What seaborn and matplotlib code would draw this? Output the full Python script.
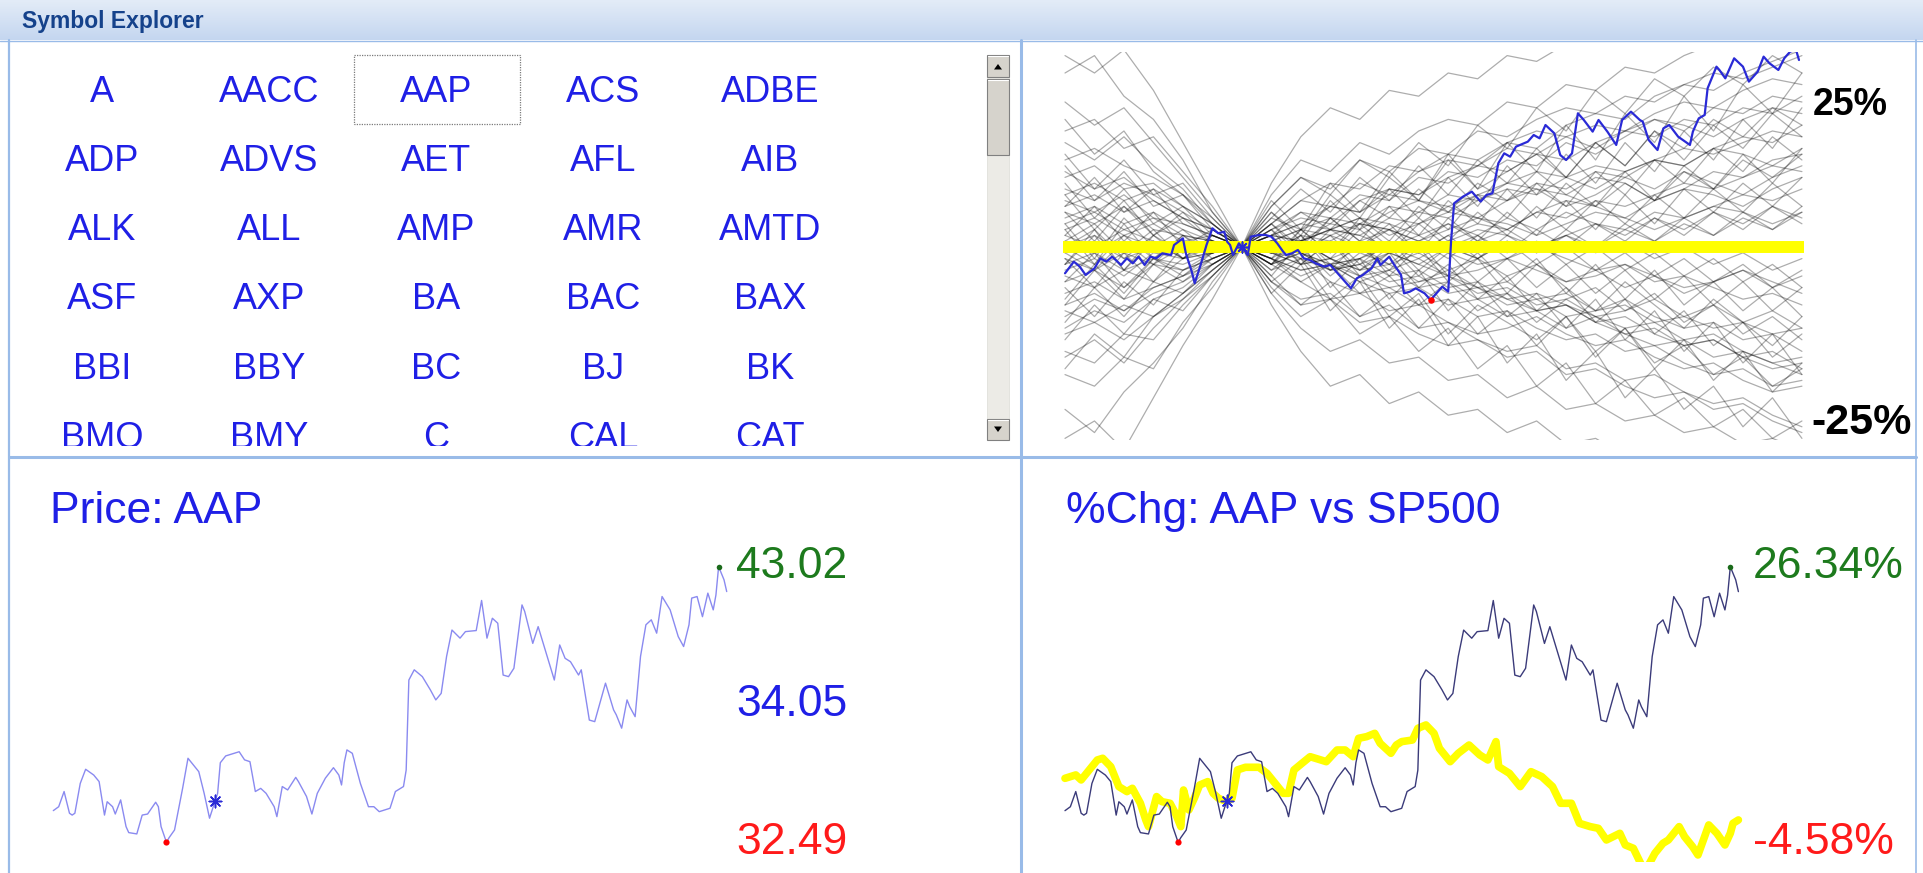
import matplotlib
matplotlib.use("Agg")
import matplotlib.pyplot as plt
import numpy as np
import pandas as pd
import seaborn as sns
from matplotlib.patches import Rectangle, Polygon

# ---------------- data ----------------
panel_title = "Symbol Explorer"
symbols = ["A", "AACC", "AAP", "ACS", "ADBE",
           "ADP", "ADVS", "AET", "AFL", "AIB",
           "ALK", "ALL", "AMP", "AMR", "AMTD",
           "ASF", "AXP", "BA", "BAC", "BAX",
           "BBI", "BBY", "BC", "BJ", "BK",
           "BMO", "BMY", "C", "CAL", "CAT"]
selected = "AAP"
benchmark = "SP500"
base_day = 60

price_days = [0, 2, 4, 6, 7, 8, 10, 12, 15, 17,
              19, 20, 22, 23, 25, 27, 28, 31, 33, 35,
              38, 39, 40, 42, 43, 45, 48, 50, 54, 56,
              58, 60, 61, 62, 64, 69, 71, 73, 75, 77,
              79, 82, 83, 85, 87, 90, 91, 94, 96, 98,
              101, 104, 106, 107, 108, 109, 111, 114, 117, 119,
              121, 125, 127, 130, 131, 132, 134, 137, 140, 142,
              144, 146, 148, 151, 153, 157, 159, 161, 163, 165,
              167, 169, 171, 174, 175, 178, 180, 183, 186, 188,
              190, 192, 195, 196, 199, 201, 205, 208, 209, 211,
              213, 214, 216, 217, 218, 220, 222, 224, 226, 229,
              232, 234, 236, 237, 239, 241, 243, 245, 246, 247,
              249, 250]
price_values = [33.70, 33.85, 34.43, 33.60, 33.53, 33.60, 34.74, 35.28, 35.06, 34.81,
                33.53, 34.04, 33.85, 33.57, 34.11, 33.09, 32.86, 32.81, 33.53, 33.57,
                34.02, 33.85, 33.09, 32.49, 32.67, 32.96, 34.55, 35.70, 35.19, 34.36,
                33.41, 34.05, 34.36, 35.53, 35.79, 35.95, 35.64, 35.57, 34.43, 34.55,
                34.36, 33.85, 33.47, 34.62, 34.49, 34.97, 34.81, 34.24, 33.57, 34.36,
                34.94, 35.34, 35.06, 34.68, 35.53, 36.02, 35.89, 34.74, 33.85, 33.85,
                33.66, 33.79, 34.43, 34.62, 35.25, 38.69, 39.08, 38.82, 38.31, 37.93,
                38.18, 39.59, 40.60, 40.29, 40.54, 40.58, 41.73, 40.29, 41.05, 40.86,
                38.88, 38.82, 39.14, 41.56, 41.31, 40.09, 40.73, 39.71, 38.69, 40.03,
                39.52, 39.39, 38.88, 39.08, 37.16, 37.10, 38.57, 37.55, 37.36, 36.85,
                37.93, 37.67, 37.29, 38.44, 39.59, 40.80, 40.99, 40.48, 41.88, 41.37,
                40.35, 39.97, 40.80, 41.82, 41.88, 41.11, 42.01, 41.37, 41.94, 43.02,
                42.52, 42.07]

sp500_days = [0, 4, 6, 9, 12, 14, 17, 20, 23, 25,
              28, 30, 31, 34, 36, 39, 41, 43, 44, 46,
              48, 50, 53, 55, 57, 60, 62, 64, 67, 72,
              75, 78, 81, 83, 85, 88, 91, 95, 97, 101,
              104, 107, 109, 112, 115, 117, 121, 123, 125, 129,
              131, 134, 137, 139, 143, 146, 150, 154, 157, 160,
              161, 165, 169, 173, 177, 181, 184, 188, 191, 195,
              198, 201, 206, 208, 211, 214, 216, 219, 222, 224,
              228, 230, 233, 235, 237, 239, 242, 245, 247, 248,
              250]
sp500_pct = [2.60, 2.98, 2.42, 3.54, 4.66, 4.85, 3.91, 1.67, 1.11, 1.48,
             -0.20, -2.07, -2.82, 0.55, -0.02, -0.20, -1.33, -2.82, 1.29, -0.95,
             0.36, 1.85, 2.23, 0.92, 0.36, -0.02, 0.36, 3.54, 3.84, 3.84,
             3.16, 2.04, 0.92, 0.92, 3.54, 4.29, 5.03, 4.66, 4.47, 5.78,
             5.78, 5.03, 7.09, 7.28, 7.65, 6.53, 5.41, 6.34, 6.72, 6.90,
             8.21, 8.59, 7.65, 5.97, 4.47, 5.41, 6.34, 5.22, 4.66, 6.72,
             3.91, 3.16, 1.67, 3.35, 2.79, 1.67, -0.20, -0.20, -2.45, -2.82,
             -3.01, -4.32, -3.57, -4.88, -5.25, -7.12, -7.50, -5.81, -4.69, -4.32,
             -2.82, -3.94, -5.07, -6.00, -4.32, -2.63, -3.57, -4.88, -3.57, -2.45,
             -2.07]

explorer_days = [0, 3, 5, 7, 10, 12, 14, 16, 19, 21,
                 23, 25, 27, 29, 31, 33, 36, 37, 40, 41,
                 43, 44, 46, 48, 50, 52, 54, 55, 56, 57,
                 59, 60, 62, 63, 66, 68, 70, 72, 74, 75,
                 77, 79, 81, 83, 85, 88, 90, 92, 94, 97,
                 99, 101, 104, 106, 107, 110, 111, 114, 115, 117,
                 119, 122, 124, 126, 128, 130, 131, 132, 135, 138,
                 141, 143, 145, 147, 149, 151, 153, 157, 159, 161,
                 163, 166, 168, 170, 172, 174, 176, 179, 181, 184,
                 187, 189, 192, 195, 196, 198, 201, 203, 205, 208,
                 212, 213, 215, 217, 218, 221, 222, 224, 227, 230,
                 232, 235, 237, 239, 242, 244, 246, 248, 249]
explorer_pct = [-4.54, -2.53, -3.39, -4.83, -3.68, -1.95, -2.53, -1.67, -3.10, -1.95,
                -2.82, -1.67, -3.10, -1.67, -1.95, -1.09, -1.38, 0.34, 1.49, -1.09,
                -4.25, -6.26, -3.10, 0.34, 3.22, 2.36, 2.64, 0.92, 0.34, -1.38,
                0.63, 0.00, -1.38, 1.78, 2.07, 2.07, 1.78, 0.63, -0.80, -1.38,
                -1.09, -0.52, -1.95, -2.24, -2.82, -3.39, -3.10, -4.25, -5.40, -7.13,
                -5.40, -4.83, -3.68, -1.95, -3.10, -1.67, -2.53, -4.83, -7.99, -7.70,
                -7.13, -7.99, -9.14, -7.99, -6.84, -7.70, 1.21, 7.53, 8.68, 9.54,
                7.82, 8.97, 9.25, 14.43, 16.15, 15.57, 17.30, 18.16, 19.31, 18.74,
                21.03, 19.60, 15.86, 15.00, 16.15, 23.05, 21.90, 19.89, 21.90, 19.89,
                17.59, 21.90, 23.33, 21.90, 21.61, 18.45, 16.72, 20.46, 21.03, 19.02,
                17.59, 19.89, 22.18, 22.76, 27.36, 31.09, 30.52, 29.08, 32.53, 31.09,
                28.51, 30.23, 32.82, 31.67, 30.52, 32.53, 33.68, 33.97, 32.24]

peer_days = [0, 10, 20, 30, 40, 50, 60, 70, 80, 90, 100, 110, 120, 130,
             140, 150, 160, 170, 180, 190, 200, 210, 220, 230, 240, 250]
peer_pct = [
    [8, 6, 9, 5, 4, 2, 0, 3, 5, 4, 8, 10, 9, 13, 12, 15, 14, 18, 16, 19, 22, 20, 24, 23, 26, 25],
    [-6, -4, -7, -3, -4, -2, 0, -2, -5, -3, -6, -8, -7, -10, -9, -12, -11, -14, -12, -15, -17, -16, -19, -18, -20, -22],
    [12, 14, 10, 11, 7, 4, 0, -3, -1, -4, -2, 1, -1, 2, 4, 3, 6, 5, 8, 7, 9, 11, 10, 12, 14, 13],
    [-12, -9, -11, -8, -6, -3, 0, 2, 1, 4, 3, 6, 8, 7, 5, 8, 10, 9, 12, 11, 8, 10, 13, 12, 15, 16],
    [3, 5, 2, 4, 1, 2, 0, -1, 1, -2, -4, -3, -6, -5, -8, -7, -10, -9, -12, -14, -13, -16, -15, -18, -20, -19],
    [-3, -1, -4, -2, -3, -1, 0, 3, 6, 5, 9, 8, 12, 11, 14, 17, 16, 19, 21, 20, 23, 25, 24, 27, 29, 28],
    [20, 22, 17, 19, 13, 7, 0, -6, -9, -8, -12, -10, -14, -13, -16, -18, -17, -21, -20, -23, -22, -25, -27, -26, -29, -31],
    [-18, -20, -15, -16, -10, -5, 0, 4, 8, 7, 11, 9, 13, 15, 14, 18, 17, 21, 23, 22, 26, 28, 27, 30, 32, 34],
    [5, 7, 4, 6, 3, 1, 0, 1, -1, 2, 0, 3, 1, 4, 2, 5, 3, 6, 4, 2, 5, 3, 6, 4, 7, 5],
    [-5, -7, -4, -6, -2, -1, 0, -1, 1, -2, 0, -3, -1, -4, -2, -5, -3, -6, -4, -7, -5, -8, -6, -4, -7, -5],
    [30, 33, 26, 22, 15, 6, 0, -8, -14, -18, -16, -20, -19, -23, -22, -26, -24, -28, -27, -30, -29, -32, -31, -34, -33, -35],
    [-28, -32, -25, -20, -14, -6, 0, 9, 15, 13, 18, 16, 20, 22, 21, 25, 24, 28, 27, 31, 30, 33, 35, 34, 36, 35],
    [10, 8, 11, 9, 6, 3, 0, 2, 4, 7, 6, 9, 8, 6, 9, 11, 10, 7, 9, 12, 10, 13, 11, 9, 12, 14],
    [-10, -8, -11, -7, -5, -3, 0, -2, -4, -3, -6, -4, -2, -5, -7, -6, -9, -8, -11, -10, -13, -12, -10, -13, -15, -14],
    [0, 2, -1, 1, -2, -1, 0, 2, 4, 3, 5, 2, 4, 6, 5, 3, 6, 8, 7, 5, 8, 10, 9, 7, 10, 12],
    [2, 0, 3, 1, -1, 1, 0, -2, -4, -3, -5, -7, -6, -4, -7, -9, -8, -10, -12, -11, -9, -12, -14, -13, -11, -14],
    [15, 17, 14, 12, 9, 5, 0, -4, -2, -6, -8, -7, -10, -9, -12, -11, -14, -16, -15, -18, -17, -20, -22, -21, -24, -23],
    [-15, -13, -16, -12, -9, -4, 0, 5, 3, 7, 6, 10, 9, 12, 14, 13, 16, 15, 18, 20, 19, 22, 21, 24, 23, 26],
    [7, 9, 6, 8, 5, 3, 0, -1, 2, 1, 4, 3, 6, 5, 8, 10, 9, 12, 14, 13, 15, 17, 16, 18, 20, 19],
    [-8, -6, -9, -7, -5, -2, 0, 1, -1, -3, -2, -5, -4, -7, -6, -9, -11, -10, -13, -12, -15, -17, -16, -19, -21, -20],
    [4, 6, 3, 5, 2, 1, 0, 2, 1, 3, 5, 4, 2, 4, 1, 3, 0, 2, -1, 1, -2, 0, -3, -1, -4, -2],
    [-2, -4, -1, -3, 0, -1, 0, -1, -3, -2, -4, -1, -3, 0, -2, 1, -1, 2, 0, 3, 1, 4, 2, 5, 3, 6],
    [25, 21, 24, 18, 12, 6, 0, 7, 12, 10, 15, 13, 17, 16, 20, 19, 22, 24, 23, 26, 25, 28, 30, 29, 31, 33],
    [-22, -24, -19, -21, -13, -7, 0, -6, -10, -9, -13, -12, -15, -17, -16, -19, -18, -22, -21, -24, -26, -25, -28, -27, -30, -32],
    [9, 11, 8, 10, 7, 4, 0, 1, 3, 5, 4, 7, 6, 9, 8, 11, 13, 12, 10, 13, 15, 14, 17, 16, 14, 17],
    [-11, -13, -10, -12, -8, -4, 0, -3, -1, -4, -3, -6, -5, -8, -7, -10, -9, -12, -11, -9, -12, -14, -13, -16, -15, -18],
    [1, -1, 2, 0, 1, -1, 0, 1, 3, 2, 4, 3, 1, 3, 5, 4, 2, 4, 6, 5, 3, 5, 7, 6, 4, 6],
    [-1, 1, -2, 0, -1, 1, 0, -1, -2, -4, -3, -1, -3, -5, -4, -2, -4, -6, -5, -3, -5, -7, -6, -4, -6, -8],
    [18, 15, 19, 14, 10, 4, 0, -2, 1, 3, 2, 5, 4, 7, 9, 8, 11, 10, 13, 12, 15, 14, 17, 19, 18, 21],
    [-19, -16, -20, -14, -9, -5, 0, -1, -3, -2, -5, -4, -7, -6, -9, -8, -11, -10, -13, -15, -14, -17, -16, -19, -18, -21],
    [33, 30, 34, 27, 18, 9, 0, -10, -18, -24, -22, -27, -25, -29, -28, -32, -30, -34, -33, -36, -35, -37, -36, -38, -37, -36],
    [-33, -30, -35, -26, -17, -9, 0, 11, 19, 24, 22, 27, 26, 30, 29, 33, 32, 35, 34, 37, 36, 38, 37, 39, 38, 37],
    [6, 4, 7, 3, 2, 1, 0, 4, 8, 11, 10, 14, 13, 16, 15, 18, 20, 19, 17, 20, 22, 21, 19, 22, 24, 23],
    [-4, -2, -5, -1, -2, 0, 0, -3, -6, -9, -8, -11, -10, -13, -15, -14, -12, -15, -17, -16, -19, -21, -20, -23, -25, -24],
    [13, 10, 12, 8, 5, 3, 0, 1, -1, -3, -2, 0, -2, 1, 3, 2, 0, 2, 4, 3, 6, 5, 7, 9, 8, 10],
    [-14, -11, -13, -9, -7, -3, 0, -1, 1, 3, 2, 0, 2, -1, -3, -2, 0, -2, -4, -3, -6, -5, -7, -9, -8, -10],
    [4, -2, 5, 0, 3, -1, 0, -3, 2, -4, 1, -5, 0, -6, -2, -8, -3, -7, -11, -6, -10, -14, -9, -13, -17, -12],
    [-3, 2, -4, 1, -2, 2, 0, 4, -1, 5, 1, 7, 2, 8, 4, 10, 5, 11, 7, 13, 8, 14, 10, 16, 11, 17],
    [9, 3, 8, 2, 6, 1, 0, -5, 1, -7, -2, -9, -4, -11, -6, -12, -8, -14, -9, -16, -11, -18, -13, -20, -15, -22],
    [-9, -3, -8, -2, -5, -1, 0, 6, 1, 8, 3, 10, 5, 12, 7, 14, 9, 16, 11, 18, 13, 20, 15, 22, 17, 24],
    [14, 8, 13, 7, 9, 3, 0, 2, -3, 1, -4, 0, -5, -1, -6, -2, -7, -3, -8, -4, -9, -5, -10, -6, -11, -7],
    [-13, -7, -12, -6, -8, -3, 0, -2, 3, -1, 4, 0, 5, 1, 6, 2, 7, 3, 8, 4, 9, 5, 10, 6, 11, 7],
    [2, 7, 1, 6, 0, 3, 0, 5, 10, 6, 12, 8, 14, 9, 15, 11, 17, 12, 18, 14, 20, 15, 21, 17, 23, 19],
    [-2, -7, -1, -6, 0, -3, 0, -5, -10, -6, -12, -8, -14, -9, -15, -11, -17, -12, -19, -14, -21, -16, -23, -18, -25, -20],
    [6, 1, 7, 2, 5, 1, 0, 1, -2, 3, 0, 4, -1, 5, 1, 6, 2, 8, 3, 9, 4, 10, 6, 11, 7, 12],
    [-6, -1, -7, -2, -4, -1, 0, -1, 2, -3, 0, -4, 1, -5, -1, -6, -2, -8, -3, -9, -4, -10, -6, -11, -7, -12],
    [11, 5, 10, 4, 7, 2, 0, 8, 3, 11, 6, 13, 8, 16, 10, 18, 13, 21, 15, 23, 18, 26, 20, 28, 23, 30],
    [-10, -4, -9, -3, -6, -2, 0, -8, -3, -11, -6, -14, -9, -17, -12, -20, -15, -23, -18, -26, -21, -28, -24, -31, -26, -33],
    [1, 4, -1, 3, -2, 1, 0, 3, -1, 2, -3, 1, -4, 0, -2, 2, -1, 3, 0, 4, 1, 5, 2, 6, 3, 7],
    [-1, -4, 1, -3, 2, -1, 0, -3, 1, -2, 3, -1, 4, 0, 2, -2, 1, -3, 0, -4, -1, -5, -2, -6, -3, -7],
    [16, 10, 15, 9, 11, 5, 0, -6, -2, -9, -5, -12, -8, -15, -10, -13, -16, -12, -18, -14, -20, -17, -22, -19, -24, -21],
    [-16, -10, -15, -9, -11, -5, 0, 6, 2, 9, 5, 12, 8, 15, 10, 13, 16, 12, 18, 14, 20, 17, 22, 19, 24, 21],
    [3, -3, 4, -2, 2, -2, 0, 2, 6, 3, 8, 5, 10, 6, 11, 8, 13, 9, 7, 11, 8, 13, 10, 15, 12, 16],
    [-3, 3, -4, 2, -2, 2, 0, -2, -6, -3, -8, -5, -10, -6, -11, -8, -13, -9, -7, -11, -8, -13, -10, -15, -12, -16],
    [7, 12, 6, 10, 4, 2, 0, -4, 0, -5, -1, -3, 1, -2, 2, -1, 3, 0, 4, 1, 5, 2, 6, 3, 7, 4],
    [-7, -12, -6, -10, -4, -2, 0, 4, 0, 5, 1, 3, -1, 2, -2, 1, -3, 0, -4, -1, -5, -2, -6, -3, -7, -4],
    [22, 16, 20, 13, 9, 4, 0, -3, 3, -1, 5, 1, 7, 3, 9, 5, 11, 7, 13, 9, 15, 11, 17, 13, 19, 15],
    [-21, -15, -19, -12, -8, -4, 0, 3, -3, 1, -5, -1, -7, -3, -9, -5, -11, -7, -13, -9, -15, -11, -17, -13, -19, -15],
    [0, -3, 2, -2, 1, -1, 0, 7, 12, 9, 15, 12, 18, 14, 21, 17, 24, 20, 27, 23, 29, 26, 31, 28, 33, 30],
    [0, 3, -2, 2, -1, 1, 0, -7, -12, -9, -15, -12, -18, -14, -21, -17, -24, -20, -27, -23, -29, -26, -31, -28, -33, -30],
]
scale_labels = ["25%", "-25%"]

# ---------------- style ----------------
sns.set_style("white")
plt.rcParams["font.family"] = ["Liberation Sans", "DejaVu Sans"]

W, H = 1924, 873
BORDER = "#99bbe8"
BLUE_TXT = "#1f1fe6"
GREEN_TXT = "#1d7a1d"
RED_TXT = "#ff1a1a"

fig = plt.figure(figsize=(W / 100, H / 100), dpi=100)
fig.patch.set_facecolor("white")


def px_axes(x0, y0, x1, y1, z=1):
    ax = fig.add_axes([x0 / W, 1 - y1 / H, (x1 - x0) / W, (y1 - y0) / H], zorder=z)
    ax.set_facecolor("none")
    ax.set_axis_off()
    return ax


# background / chrome
ax_bg = px_axes(0, 0, W, H, z=0)
grad = np.linspace(0, 1, 40)[:, None, None]
top = np.array([0.89, 0.925, 0.97])
bot = np.array([0.77, 0.84, 0.94])
ax_bg.imshow(top * (1 - grad) + bot * grad, extent=(0, W, 40, 0), aspect="auto", zorder=0)
ax_bg.set_xlim(0, W)
ax_bg.set_ylim(H, 0)
ax_bg.text(22, 28, panel_title, fontsize=16.5, fontweight="bold", color="#15428b",
           ha="left", va="baseline")

# ---------------- symbol list ----------------
ax_list = px_axes(10, 44, 985, 446, z=2)
ncol = 5
col_px, row_px = 167.0, 69.3
ax_list.set_xlim(-(102 - 10) / col_px, (985 - 102) / col_px)
ax_list.set_ylim((446 - 88) / row_px, -(88 - 44) / row_px)
for i, s in enumerate(symbols):
    c, r = i % ncol, i // ncol
    ax_list.text(c, r, s, fontsize=26, color=BLUE_TXT, ha="center", va="center_baseline",
                 clip_on=True)
sel = symbols.index(selected)
sc, sr = sel % ncol, sel // ncol
ax_list.add_patch(Rectangle((sc - 0.49, sr - 0.48), 0.99, 1.0, fill=False,
                            ec="#7a7a7a", lw=0.9, ls=(0, (1, 1))))

# ---------------- explorer (spaghetti) ----------------
ax_sp = px_axes(1063, 52, 1804, 440, z=2)
peer_df = pd.DataFrame(
    [(k, d, v) for k, series in enumerate(peer_pct) for d, v in zip(peer_days, series)],
    columns=["series", "day", "pct"])
sns.lineplot(data=peer_df, x="day", y="pct", units="series", estimator=None,
             color="black", alpha=0.32, linewidth=0.9, legend=False, ax=ax_sp)
ax_sp.axhline(0, color="#ffff00", lw=8.6, zorder=3)
sns.lineplot(x=explorer_days, y=explorer_pct, estimator=None, sort=False,
             color="#2a2ad6", linewidth=1.6, ax=ax_sp, zorder=4)
emin = int(np.argmin(explorer_pct))
sns.scatterplot(x=[explorer_days[emin]], y=[explorer_pct[emin]], color="red", s=22,
                linewidth=0, ax=ax_sp, zorder=5)
ax_sp.scatter([base_day], [0], marker=(8, 2, 0), s=60, color="#2a2ad6", linewidths=1.2, zorder=5)
ax_sp.set_xlim(-0.68, 250.7)
ax_sp.set_ylim(-33.28, 33.62)
ax_sp.set_axis_off()

ax_bg.text(1813, 115, scale_labels[0], fontsize=27, fontweight="bold", color="black",
           ha="left", va="baseline")
ax_bg.text(1811, 434, scale_labels[1], fontsize=31, fontweight="bold", color="black",
           ha="left", va="baseline")

# ---------------- price chart ----------------
ax_p = px_axes(10, 462, 1015, 862, z=2)
sns.lineplot(x=price_days, y=price_values, estimator=None, sort=False,
             color="#8a8af0", linewidth=1.0, ax=ax_p)
pmin, pmax = int(np.argmin(price_values)), int(np.argmax(price_values))
base_idx = price_days.index(base_day)
base_price = price_values[base_idx]
sns.scatterplot(x=[price_days[pmin]], y=[price_values[pmin]], color="red", s=20,
                linewidth=0, ax=ax_p, zorder=5)
sns.scatterplot(x=[price_days[pmax]], y=[price_values[pmax]], color="#1a6a1a", s=16,
                linewidth=0, ax=ax_p, zorder=5)
ax_p.scatter([base_day], [base_price], marker=(8, 2, 0), s=80, color="#2a2ad6",
             linewidths=1.1, zorder=5)
lab_xp = price_days[-1] + 3.5
ax_p.text(lab_xp, price_values[pmax], f"{price_values[pmax]:.2f}", fontsize=32,
          color=GREEN_TXT, ha="left", va="center")
ax_p.text(lab_xp, (price_values[pmax] + price_values[pmin]) / 2, f"{base_price:.2f}",
          fontsize=32, color=BLUE_TXT, ha="left", va="center")
ax_p.text(lab_xp, price_values[pmin], f"{price_values[pmin]:.2f}", fontsize=32,
          color=RED_TXT, ha="left", va="center")
ax_p.set_xlim(-16.08, 357.03)
ax_p.set_ylim(31.737, 47.02)
ax_p.set_axis_off()
ax_bg.text(50, 523, f"Price: {selected}", fontsize=32, color=BLUE_TXT, ha="left", va="baseline")

# ---------------- % change chart ----------------
ax_c = px_axes(1022, 462, 1920, 862, z=2)
aap_pct = [(p / base_price - 1) * 100 for p in price_values]
sns.lineplot(x=sp500_days, y=sp500_pct, estimator=None, sort=False,
             color="#ffff00", linewidth=5.5, ax=ax_c, zorder=2)
sns.lineplot(x=price_days, y=aap_pct, estimator=None, sort=False,
             color="#3b3b7a", linewidth=1.0, ax=ax_c, zorder=3)
sns.scatterplot(x=[price_days[pmin]], y=[aap_pct[pmin]], color="red", s=20,
                linewidth=0, ax=ax_c, zorder=5)
sns.scatterplot(x=[price_days[pmax]], y=[aap_pct[pmax]], color="#1a6a1a", s=16,
                linewidth=0, ax=ax_c, zorder=5)
ax_c.scatter([base_day], [0], marker=(8, 2, 0), s=80, color="#2a2ad6", linewidths=1.1, zorder=5)
lab_xc = price_days[-1] + 5.5
ax_c.text(lab_xc, aap_pct[pmax], f"{aap_pct[pmax]:.2f}%", fontsize=32,
          color=GREEN_TXT, ha="left", va="center")
ax_c.text(lab_xc, aap_pct[pmin], f"{aap_pct[pmin]:.2f}%", fontsize=32,
          color=RED_TXT, ha="left", va="center")
ax_c.set_xlim(-15.96, 317.42)
ax_c.set_ylim(-6.79, 38.10)
ax_c.set_axis_off()
ax_bg.text(1066, 523, f"%Chg: {selected} vs {benchmark}", fontsize=32, color=BLUE_TXT,
           ha="left", va="baseline")

# ---------------- overlay: borders + scrollbar ----------------
ax_ov = px_axes(0, 0, W, H, z=10)
ax_ov.set_xlim(0, W)
ax_ov.set_ylim(H, 0)
ax_ov.add_patch(Rectangle((1916, 41), W - 1916, H - 41, fc="white", ec="none"))
ax_ov.plot([0, W], [40.5, 40.5], color=BORDER, lw=1.0)
ax_ov.plot([9, 9], [40, H], color=BORDER, lw=1.6)
ax_ov.plot([1021, 1021], [40, H], color=BORDER, lw=2.2)
ax_ov.plot([9, 1916], [457, 457], color=BORDER, lw=2.2)
ax_ov.plot([1916, 1916], [40, H], color=BORDER, lw=1.2)

# scrollbar
ax_ov.add_patch(Rectangle((987, 77), 22, 343, fc="#ecebe6", ec="#dcdcd6", lw=0.5))
for (y0, h) in [(55, 22), (79, 76), (419, 21)]:
    ax_ov.add_patch(Rectangle((987, y0), 22, h, fc="#d6d3cc", ec="#808080", lw=0.8))
    ax_ov.plot([988, 1008], [y0 + 1, y0 + 1], color="white", lw=0.8)
ax_ov.add_patch(Polygon([(994, 69.5), (1002, 69.5), (998, 64)], closed=True, fc="black", ec="none"))
ax_ov.add_patch(Polygon([(994, 426.5), (1002, 426.5), (998, 432)], closed=True, fc="black", ec="none"))

fig.savefig("out.png", dpi=100, facecolor="white")
